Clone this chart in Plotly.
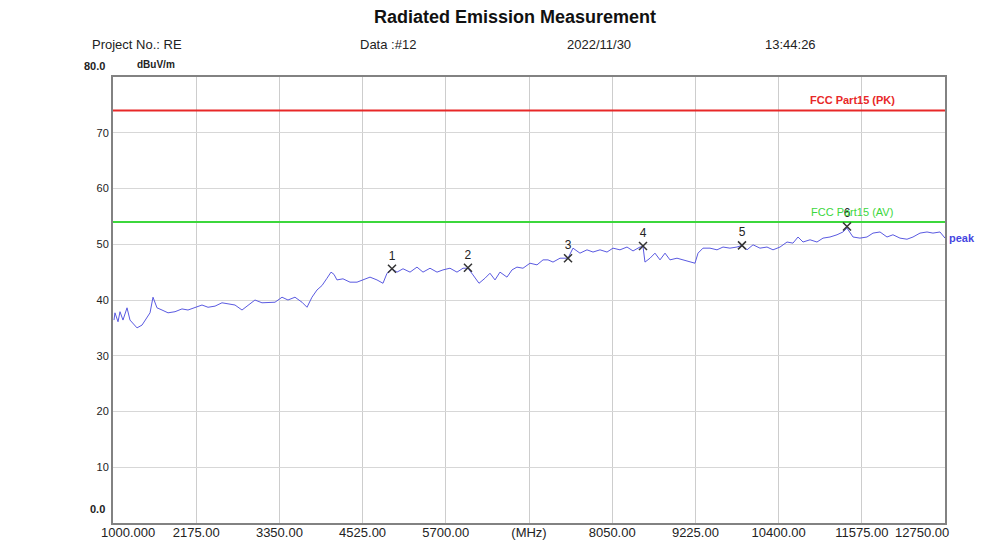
import plotly.graph_objects as go

# ---- data ----
freq_mhz = [1014, 1028, 1071, 1099, 1141, 1198, 1240, 1339, 1410, 1480, 1523, 1565, 1621, 1692,
            1777, 1876, 1974, 2059, 2158, 2257, 2342, 2441, 2539, 2624, 2723, 2822, 2907, 3005,
            3104, 3189, 3288, 3387, 3471, 3570, 3669, 3740, 3810, 3881, 3952, 4022, 4079, 4121,
            4163, 4248, 4347, 4446, 4531, 4630, 4728, 4813, 4870, 4940, 5011, 5096, 5195, 5293,
            5378, 5477, 5576, 5660, 5759, 5858, 5943, 6013, 6084, 6169, 6253, 6324, 6395, 6465,
            6564, 6635, 6705, 6790, 6889, 6988, 7073, 7143, 7214, 7313, 7426, 7496, 7595, 7694,
            7779, 7878, 7977, 8061, 8160, 8259, 8344, 8442, 8485, 8513, 8584, 8654, 8725, 8796,
            8866, 8965, 9050, 9149, 9219, 9262, 9332, 9431, 9530, 9615, 9713, 9812, 9883, 9954,
            10039, 10137, 10236, 10321, 10420, 10519, 10603, 10674, 10745, 10844, 10942, 11027,
            11126, 11225, 11309, 11366, 11451, 11549, 11648, 11733, 11832, 11931, 12015, 12114,
            12213, 12298, 12397, 12496, 12580, 12679, 12750]
peak_dbuv = [36.4, 37.7, 36.1, 37.9, 36.4, 38.6, 36.4, 35.0, 35.5, 37.0, 37.7, 40.5, 38.6, 38.2,
             37.7, 37.9, 38.4, 38.2, 38.7, 39.1, 38.7, 38.9, 39.5, 39.3, 39.1, 38.2, 39.1, 40.0,
             39.5, 39.6, 39.6, 40.5, 40.0, 40.5, 39.6, 38.7, 40.5, 41.8, 42.6, 43.9, 45.0, 44.6,
             43.6, 43.8, 43.2, 43.2, 43.6, 44.1, 43.6, 43.0, 44.8, 45.6, 45.0, 45.6, 45.0, 45.9,
             45.0, 45.7, 45.0, 45.4, 45.7, 45.0, 45.7, 45.7, 44.5, 43.0, 43.9, 44.8, 43.6, 45.0,
             44.1, 45.4, 45.9, 45.7, 46.6, 46.3, 47.2, 47.2, 46.8, 47.5, 47.5, 49.3, 48.4, 49.0,
             48.6, 49.0, 48.6, 49.3, 49.0, 49.5, 48.8, 49.5, 49.6, 46.8, 47.5, 48.4, 47.2, 48.4,
             47.2, 47.5, 47.2, 46.8, 46.6, 48.4, 49.3, 49.3, 49.0, 49.5, 49.3, 49.5, 49.8, 49.0,
             49.9, 49.3, 49.5, 49.0, 49.5, 50.4, 50.2, 51.3, 50.4, 50.8, 50.4, 51.1, 51.3, 51.7,
             52.2, 52.9, 51.3, 51.1, 51.3, 52.0, 52.2, 51.3, 51.7, 51.1, 50.9, 51.3, 52.0, 52.2,
             52.0, 52.2, 51.1]

limit_freq = [1000, 12750]
limit_pk = [74, 74]
limit_av = [54, 54]

marker_no = ["1", "2", "3", "4", "5", "6"]
marker_freq = [4940, 6013, 7426, 8485, 9883, 11366]
marker_dbuv = [45.6, 45.8, 47.5, 49.7, 49.8, 53.2]

x_ticks = [1000, 2175, 3350, 4525, 5700, 6875, 8050, 9225, 10400, 11575, 12750]
x_ticktext = ["", "2175.00", "3350.00", "4525.00", "5700.00", "(MHz)",
              "8050.00", "9225.00", "10400.00", "11575.00", ""]
x_first_label = "1000.000"
x_last_label = "12750.00"
y_ticks = [10, 20, 30, 40, 50, 60, 70]
y_ticktext = ["10", "20", "30", "40", "50", "60", "70"]

NARROW = "Liberation Sans Narrow, Arial Narrow, Liberation Sans, Arial, sans-serif"
SANS = "Liberation Sans, Arial, sans-serif"
TXT = "#222222"

fig = go.Figure()
fig.add_trace(go.Scatter(x=limit_freq, y=limit_pk, mode="lines",
                         line=dict(color="rgb(232,40,40)", width=2), hoverinfo="skip"))
fig.add_trace(go.Scatter(x=limit_freq, y=limit_av, mode="lines",
                         line=dict(color="rgb(60,215,60)", width=2), hoverinfo="skip"))
fig.add_trace(go.Scatter(x=freq_mhz, y=peak_dbuv, mode="lines",
                         line=dict(color="rgb(90,90,225)", width=1)))
fig.add_trace(go.Scatter(x=marker_freq, y=marker_dbuv, mode="markers+text",
                         text=marker_no, textposition="top center",
                         textfont=dict(family=SANS, size=12, color=TXT),
                         marker=dict(symbol="x-thin", size=8,
                                     line=dict(color="#333333", width=1.5))))

ann = []
ann.append(dict(text="<b>Radiated Emission Measurement</b>", xref="paper", yref="paper",
                x=0.483, y=1, yshift=60, xanchor="center", yanchor="middle", showarrow=False,
                font=dict(family=SANS, size=18, color="#111111")))
header = [("Project No.: RE", -0.028), ("Data :#12", 0.294), ("2022/11/30", 0.543),
          ("13:44:26", 0.781)]
for t, xp in header:
    ann.append(dict(text=t, xref="paper", yref="paper", x=xp, y=1, yshift=33,
                    xanchor="left", yanchor="middle", showarrow=False,
                    font=dict(family=NARROW, size=13, color=TXT)))
ann.append(dict(text="<b>dBuV/m</b>", xref="paper", yref="paper", x=0.026, y=1, yshift=13,
                xanchor="left", yanchor="middle", showarrow=False,
                font=dict(family=NARROW, size=10, color=TXT)))
ann.append(dict(text="<b>80.0</b>", xref="paper", yref="paper", x=0, xshift=-6, y=1, yshift=11,
                xanchor="right", yanchor="middle", showarrow=False,
                font=dict(family=NARROW, size=11, color=TXT)))
ann.append(dict(text="<b>0.0</b>", xref="paper", yref="paper", x=0, xshift=-6, y=0, yshift=14,
                xanchor="right", yanchor="middle", showarrow=False,
                font=dict(family=NARROW, size=11, color=TXT)))
ann.append(dict(text=x_first_label, x=x_ticks[0], xanchor="left", xshift=-14,
                yref="paper", y=0, yshift=-9, yanchor="middle", showarrow=False,
                font=dict(family=NARROW, size=13, color=TXT)))
ann.append(dict(text=x_last_label, x=x_ticks[-1], xanchor="right", xshift=6,
                yref="paper", y=0, yshift=-9, yanchor="middle", showarrow=False,
                font=dict(family=NARROW, size=13, color=TXT)))
ann.append(dict(text="<b>FCC Part15 (PK)</b>", x=11440, y=limit_pk[0], yshift=10,
                xanchor="center", yanchor="middle", showarrow=False,
                font=dict(family=NARROW, size=11, color="rgb(232,40,40)")))
ann.append(dict(text="FCC Part15 (AV)", x=11440, y=limit_av[0], yshift=10,
                xanchor="center", yanchor="middle", showarrow=False,
                font=dict(family=NARROW, size=11, color="rgb(60,215,60)")))
ann.append(dict(text="<b>peak</b>", xref="paper", x=1, xshift=2, y=peak_dbuv[-1],
                xanchor="left", yanchor="middle", showarrow=False,
                font=dict(family=NARROW, size=11, color="rgb(70,70,225)")))

fig.update_layout(
    width=1004, height=545,
    margin=dict(l=113, r=59, t=77, b=22, autoexpand=False),
    paper_bgcolor="white", plot_bgcolor="white",
    showlegend=False,
    annotations=ann,
    xaxis=dict(range=[1000, 12750], tickvals=x_ticks, ticktext=x_ticktext, automargin=False,
               showgrid=True, gridcolor="rgb(205,205,205)", gridwidth=1,
               showline=True, linecolor="rgb(130,130,130)", linewidth=2, mirror=True,
               zeroline=False, ticks="", ticklen=0, ticklabelstandoff=-4,
               tickfont=dict(family=NARROW, size=13, color=TXT)),
    yaxis=dict(range=[0, 80], tickvals=y_ticks, ticktext=y_ticktext, automargin=False,
               showgrid=True, gridcolor="rgb(215,215,215)", gridwidth=1,
               showline=True, linecolor="rgb(130,130,130)", linewidth=2, mirror=True,
               zeroline=False, ticks="", ticklen=0,
               tickfont=dict(family=NARROW, size=11, color=TXT)),
)

fig.write_html("out.html", config={"responsive": False, "displayModeBar": False},
               post_script="document.body.style.margin='0';document.body.style.overflow='hidden';")
